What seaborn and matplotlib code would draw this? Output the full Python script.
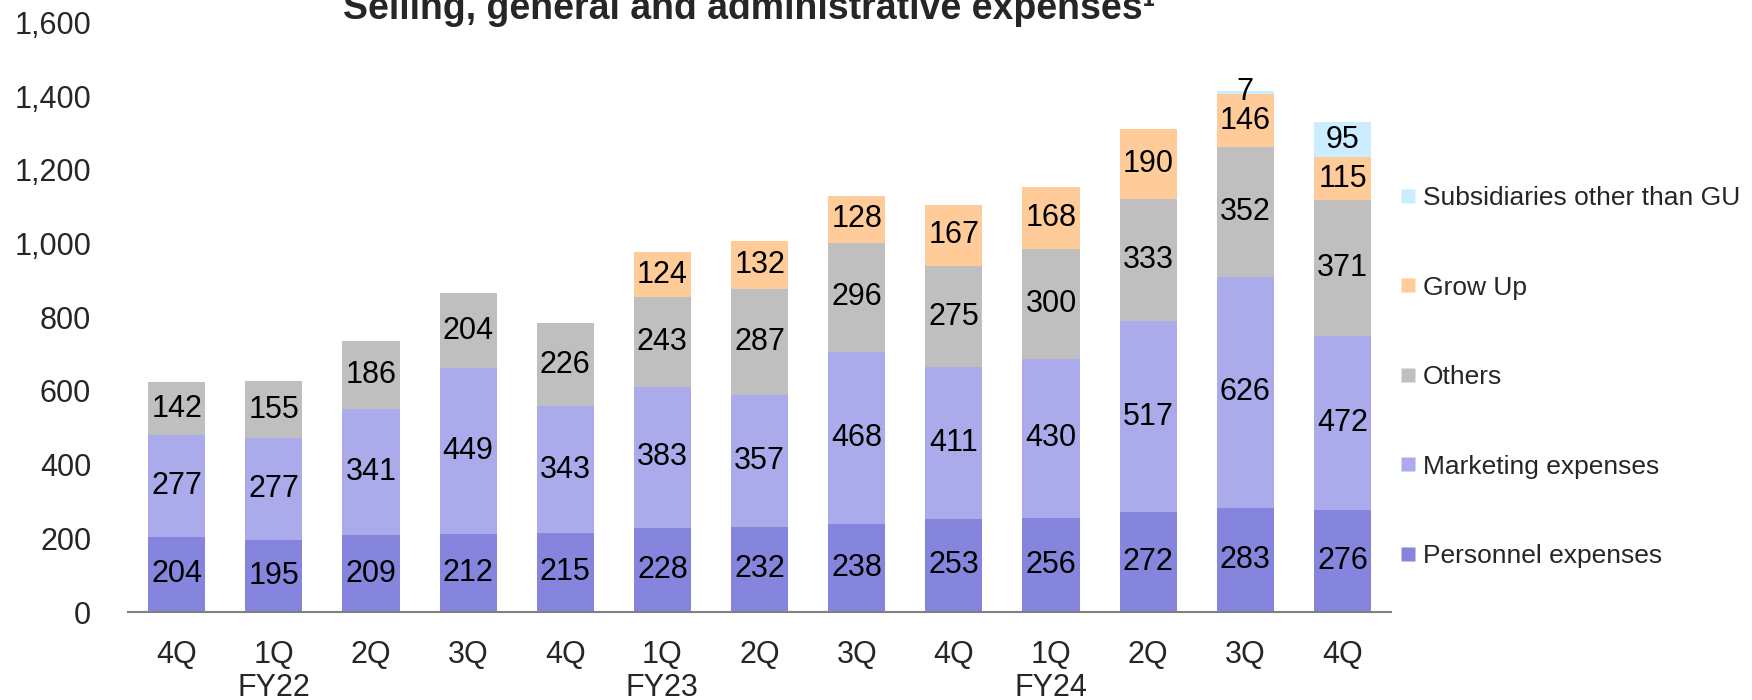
import matplotlib
matplotlib.use("Agg")
import matplotlib.pyplot as plt
import seaborn as sns
import numpy as np
import pandas as pd
from matplotlib.lines import Line2D

periods = ["4Q FY21", "1Q FY22", "2Q FY22", "3Q FY22", "4Q FY22", "1Q FY23", "2Q FY23",
           "3Q FY23", "4Q FY23", "1Q FY24", "2Q FY24", "3Q FY24", "4Q FY24"]
quarter_labels = ["4Q", "1Q\nFY22", "2Q", "3Q", "4Q", "1Q\nFY23", "2Q", "3Q", "4Q",
                  "1Q\nFY24", "2Q", "3Q", "4Q"]

personnel = [204, 195, 209, 212, 215, 228, 232, 238, 253, 256, 272, 283, 276]
marketing = [277, 277, 341, 449, 343, 383, 357, 468, 411, 430, 517, 626, 472]
others = [142, 155, 186, 204, 226, 243, 287, 296, 275, 300, 333, 352, 371]
grow_up = [0, 0, 0, 0, 0, 124, 132, 128, 167, 168, 190, 146, 115]
subsidiaries = [0, 0, 0, 0, 0, 0, 0, 0, 0, 0, 0, 7, 95]

series_names = ["Personnel expenses", "Marketing expenses", "Others", "Grow Up",
                "Subsidiaries other than GU"]
series_vals = [personnel, marketing, others, grow_up, subsidiaries]
colors = ["#8585DD", "#ABABEB", "#BFBFBF", "#FFCC99", "#CCECFF"]

title = "Selling, general and administrative expenses\u00b9"

sns.set_theme(style="white")
plt.rcParams["font.family"] = ["Liberation Sans", "DejaVu Sans"]

fig = plt.figure(figsize=(17.52, 7.0), dpi=100)
ax = fig.add_axes([0.0731, 0.1257, 0.7209, 0.8421])

vals = np.array(series_vals, dtype=float)
cum = np.cumsum(vals, axis=0)

# draw from top layer down so lower layers overlay
for i in range(len(series_names) - 1, -1, -1):
    df = pd.DataFrame({"period": periods, "value": cum[i]})
    sns.barplot(data=df, x="period", y="value", order=periods, color=colors[i],
                saturation=1, width=0.588, ax=ax, linewidth=0, edgecolor="none")

# value labels
for i in range(len(series_names)):
    for j in range(len(periods)):
        v = vals[i, j]
        if v <= 0:
            continue
        yc = cum[i, j] - v / 2
        ax.text(j, yc, f"{int(v)}", ha="center", va="center", fontsize=22, color="black")

ax.set_xlim(-0.5, 12.5)
ax.set_ylim(0, 1600)
yt = np.arange(0, 1601, 200)
ax.set_yticks(yt)
ax.set_yticklabels([f"{int(t):,}" for t in yt], fontsize=22)
ax.set_xticks(range(len(periods)))
ax.set_xticklabels(quarter_labels, fontsize=22, linespacing=1.1, va="top")
ax.tick_params(axis="x", length=0, pad=20.5)
ax.tick_params(axis="y", length=0, pad=26.6)
ax.set_xlabel("")
ax.set_ylabel("")
for s in ["top", "right", "left"]:
    ax.spines[s].set_visible(False)
ax.spines["bottom"].set_color("#808080")
ax.spines["bottom"].set_linewidth(1.5)

fig.text(0.4275, 1 - 19 / 700, title, ha="center", va="baseline", fontsize=27,
         fontweight="bold")

order = list(range(len(series_names) - 1, -1, -1))
handles = [Line2D([0], [0], marker="s", linestyle="none", markersize=10.5,
                  markerfacecolor=colors[i], markeredgecolor="none") for i in order]
labels = [series_names[i] for i in order]
fig.legend(handles, labels, loc="upper left", bbox_to_anchor=(0.7997, 0.734),
           frameon=False, fontsize=19, labelspacing=2.48, handletextpad=0.27,
           handlelength=0.55, borderaxespad=0, borderpad=0)

fig.savefig("out.png", dpi=100)
